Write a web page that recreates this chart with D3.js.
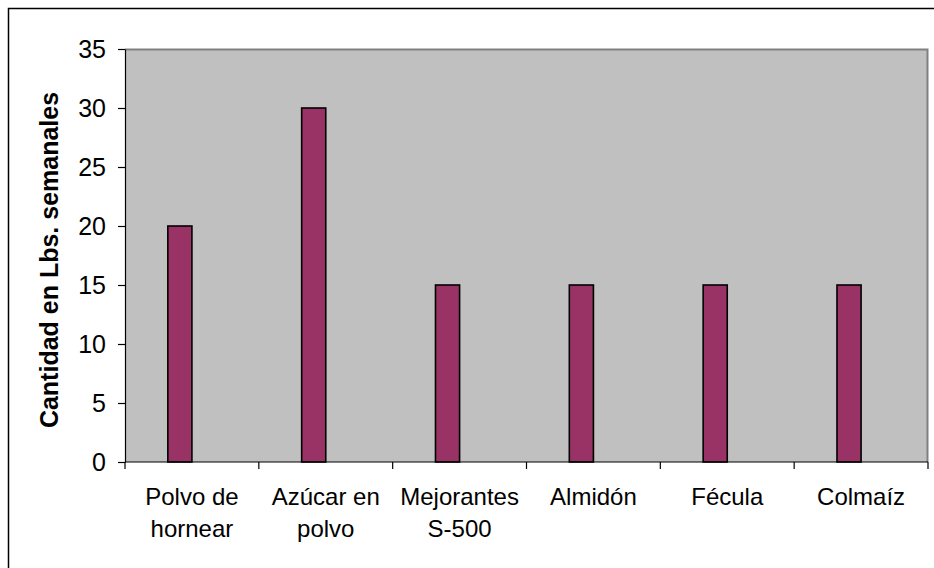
<!DOCTYPE html>
<html>
<head>
<meta charset="utf-8">
<script src="https://cdn.jsdelivr.net/npm/d3@7"></script>
<style>
  html, body { margin: 0; padding: 0; background: #ffffff; }
  svg { display: block; }
</style>
</head>
<body>
<svg id="chart" width="934" height="568"></svg>
<script>
// Productos y cantidades semanales (lbs)
const categories = [
  ["Polvo de", "hornear"],
  ["Azúcar en", "polvo"],
  ["Mejorantes", "S-500"],
  ["Almidón"],
  ["Fécula"],
  ["Colmaíz"]
];
const values = [20, 30, 15, 15, 15, 15];
const yTicks = [0, 5, 10, 15, 20, 25, 30, 35];
const yTitle = "Cantidad en Lbs. semanales";

const svg = d3.select("#chart");
const W = 934, H = 568;
const plot = { left: 125, right: 928, top: 49, bottom: 462 };
const FONT = "Arial, 'Liberation Sans', sans-serif";

// marco exterior
svg.append("rect")
  .attr("x", 8.5).attr("y", 8.5)
  .attr("width", W + 10).attr("height", H + 10)
  .attr("fill", "#ffffff").attr("stroke", "#000000").attr("stroke-width", 1.5);

const keys = categories.map((c, i) => i);
const x = d3.scaleBand().domain(keys).range([plot.left, plot.right]).paddingInner(0).paddingOuter(0);
const y = d3.scaleLinear().domain([0, 35]).range([plot.bottom, plot.top]);

// fondo del área de trazado
svg.append("rect")
  .attr("x", plot.left).attr("y", plot.top)
  .attr("width", plot.right - plot.left).attr("height", plot.bottom - plot.top)
  .attr("fill", "#c0c0c0");
svg.append("path")
  .attr("d", `M${plot.left},${plot.top + 0.5}H${plot.right - 0.5}V${plot.bottom}`)
  .attr("fill", "none").attr("stroke", "#808080").attr("stroke-width", 2);

// barras (ancho de barra relativo a la banda de categoría)
const barW = x.bandwidth() * 0.18;
svg.append("g").selectAll("rect")
  .data(values)
  .join("rect")
  .attr("x", (d, i) => x(i) + x.bandwidth() / 2 - barW)
  .attr("y", d => y(d))
  .attr("width", barW)
  .attr("height", d => y(0) - y(d))
  .attr("fill", "#993366")
  .attr("stroke", "#000000")
  .attr("stroke-width", 1.6);

// eje Y
const yAxis = d3.axisLeft(y).tickValues(yTicks).tickSize(7).tickPadding(12).tickSizeOuter(0);
const gy = svg.append("g").attr("transform", `translate(${plot.left},0)`).call(yAxis);
gy.select(".domain").attr("stroke", "#000000").attr("stroke-width", 1.2);
gy.selectAll(".tick line").attr("stroke", "#000000").attr("stroke-width", 1.2);
gy.selectAll(".tick text")
  .attr("font-family", FONT)
  .attr("font-size", 25).attr("fill", "#000000");

// eje X: marcas en los límites de categoría
const boundaries = keys.map(k => x(k)).concat([plot.right]);
svg.append("line")
  .attr("x1", plot.left).attr("x2", plot.right)
  .attr("y1", plot.bottom).attr("y2", plot.bottom)
  .attr("stroke", "#000000").attr("stroke-width", 1.2);
svg.append("g").selectAll("line")
  .data(boundaries)
  .join("line")
  .attr("x1", d => d).attr("x2", d => d)
  .attr("y1", plot.bottom).attr("y2", plot.bottom + 7)
  .attr("stroke", "#000000").attr("stroke-width", 1.2);

// etiquetas de categoría
const labels = svg.append("g")
  .attr("font-family", FONT)
  .attr("font-size", 24).attr("fill", "#000000").attr("text-anchor", "middle");
categories.forEach((lines, i) => {
  const cx = x(i) + x.bandwidth() / 2;
  const t = labels.append("text").attr("x", cx).attr("y", 505);
  lines.forEach((ln, j) => {
    t.append("tspan").attr("x", cx).attr("dy", j === 0 ? 0 : 32).text(ln);
  });
});

// título del eje Y
svg.append("text")
  .attr("transform", `translate(58,260) rotate(-90)`)
  .attr("text-anchor", "middle")
  .attr("font-family", FONT)
  .attr("font-size", 25).attr("font-weight", "bold").attr("fill", "#000000")
  .text(yTitle);
</script>
</body>
</html>
